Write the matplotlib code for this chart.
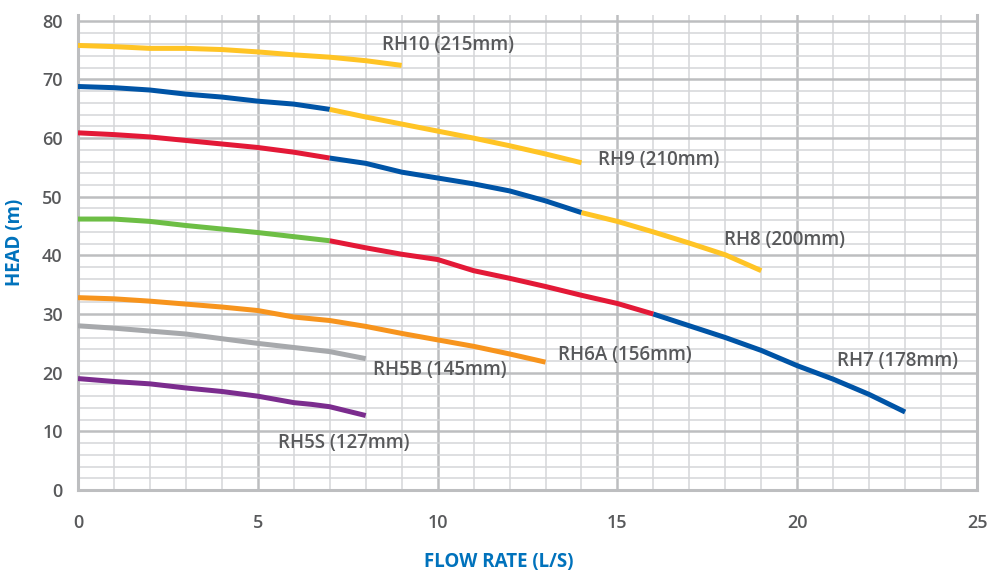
import matplotlib
matplotlib.use("Agg")
import matplotlib.pyplot as plt
from matplotlib.ticker import MultipleLocator

plt.rcParams['font.family'] = ['Open Sans', 'DejaVu Sans']

# Data (flow L/s, head m) per coloured segment
rh10_x = [0, 1, 2, 3, 4, 5, 6, 7, 8, 9]
rh10_y = [75.8, 75.6, 75.3, 75.3, 75.1, 74.7, 74.2, 73.8, 73.2, 72.4]

rh9_blue_x = [0, 1, 2, 3, 4, 5, 6, 7]
rh9_blue_y = [68.8, 68.6, 68.2, 67.5, 67.0, 66.3, 65.8, 64.9]
rh9_yel_x = [7, 8, 9, 10, 11, 12, 13, 14]
rh9_yel_y = [64.9, 63.6, 62.4, 61.2, 60.0, 58.7, 57.3, 55.8]

rh8_red_x = [0, 1, 2, 3, 4, 5, 6, 7]
rh8_red_y = [60.9, 60.6, 60.2, 59.6, 59.0, 58.4, 57.6, 56.6]
rh8_blue_x = [7, 8, 9, 10, 11, 12, 13, 14]
rh8_blue_y = [56.6, 55.7, 54.2, 53.2, 52.2, 51.0, 49.3, 47.3]
rh8_yel_x = [14, 15, 16, 17, 18, 19]
rh8_yel_y = [47.3, 45.8, 44.0, 42.1, 40.1, 37.4]

rh7_green_x = [0, 1, 2, 3, 4, 5, 6, 7]
rh7_green_y = [46.2, 46.2, 45.8, 45.1, 44.5, 43.9, 43.2, 42.5]
rh7_red_x = [7, 8, 9, 10, 11, 12, 13, 14, 15, 16]
rh7_red_y = [42.5, 41.3, 40.2, 39.3, 37.4, 36.1, 34.7, 33.2, 31.8, 30.0]
rh7_blue_x = [16, 17, 18, 19, 20, 21, 22, 23]
rh7_blue_y = [30.0, 28.0, 26.0, 23.8, 21.2, 18.9, 16.3, 13.3]

rh6a_x = [0, 1, 2, 3, 4, 5, 6, 7, 8, 9, 10, 11, 12, 13]
rh6a_y = [32.8, 32.6, 32.2, 31.7, 31.2, 30.6, 29.5, 28.9, 27.9, 26.7, 25.6, 24.5, 23.2, 21.8]

rh5b_x = [0, 1, 2, 3, 4, 5, 6, 7, 8]
rh5b_y = [28.0, 27.6, 27.1, 26.6, 25.8, 25.0, 24.3, 23.6, 22.4]

rh5s_x = [0, 1, 2, 3, 4, 5, 6, 6.5, 7, 8]
rh5s_y = [19.0, 18.5, 18.1, 17.4, 16.8, 16.0, 14.9, 14.6, 14.2, 12.7]

labels = ["RH10 (215mm)", "RH9 (210mm)", "RH8 (200mm)", "RH7 (178mm)",
          "RH6A (156mm)", "RH5B (145mm)", "RH5S (127mm)"]
label_x = [8.45, 14.45, 17.95, 21.1, 13.35, 8.2, 5.55]
label_y = [75.9, 56.2, 42.7, 22.0, 23.0, 20.5, 8.0]

YEL = '#FFC425'
BLUE = '#0054A6'
RED = '#E31937'
GREEN = '#6DBE45'
ORANGE = '#F7941D'
GRAY = '#A7A9AC'
PURPLE = '#7B2C8E'

fig = plt.figure(figsize=(9.9, 5.75), dpi=100)
ax = fig.add_axes([0.0788, 0.1478, 0.9081, 0.8262])

lw = 3.6
segs = [
    (rh10_x, rh10_y, YEL),
    (rh9_blue_x, rh9_blue_y, BLUE), (rh9_yel_x, rh9_yel_y, YEL),
    (rh8_red_x, rh8_red_y, RED), (rh8_blue_x, rh8_blue_y, BLUE), (rh8_yel_x, rh8_yel_y, YEL),
    (rh7_green_x, rh7_green_y, GREEN), (rh7_red_x, rh7_red_y, RED), (rh7_blue_x, rh7_blue_y, BLUE),
    (rh6a_x, rh6a_y, ORANGE),
    (rh5b_x, rh5b_y, GRAY),
    (rh5s_x, rh5s_y, PURPLE),
]
for xs, ys, c in segs:
    ax.plot(xs, ys, color=c, lw=lw, solid_capstyle='butt', solid_joinstyle='round', zorder=3)

for t, x, y in zip(labels, label_x, label_y):
    ax.text(x, y, t, fontsize=13.5, color='#58595B', fontweight='semibold',
            ha='left', va='center', zorder=4)

ax.set_xlim(0, 25)
ax.set_ylim(0, 81)
ax.xaxis.set_major_locator(MultipleLocator(5))
ax.xaxis.set_minor_locator(MultipleLocator(1))
ax.yaxis.set_major_locator(MultipleLocator(10))
ax.yaxis.set_minor_locator(MultipleLocator(2))
ax.grid(which='major', color='#BDBEC0', lw=1.8, zorder=1)
ax.grid(which='minor', color='#D5D6D8', lw=1.1, zorder=1)
ax.set_axisbelow(True)
ax.spines['top'].set_visible(False)
for s in ['left', 'bottom', 'right']:
    ax.spines[s].set_color('#BDBEC0')
    ax.spines[s].set_linewidth(2.2)
ax.tick_params(which='both', length=0, labelsize=13, labelcolor='#58595B')
ax.tick_params(axis='x', pad=17)
ax.tick_params(axis='y', pad=11)
for lab in ax.get_xticklabels() + ax.get_yticklabels():
    lab.set_fontweight('semibold')

ax.set_xlabel('FLOW RATE (L/S)', fontsize=13.5, color='#0072BC', fontweight='bold')
ax.set_ylabel('HEAD (m)', fontsize=13.5, color='#0072BC', fontweight='bold')
ax.xaxis.set_label_coords(0.468, -0.151)
ax.yaxis.set_label_coords(-0.070, 0.522)
ax.xaxis.label.set_va('center')
ax.yaxis.label.set_va('center')

fig.savefig('out.png', dpi=100)
